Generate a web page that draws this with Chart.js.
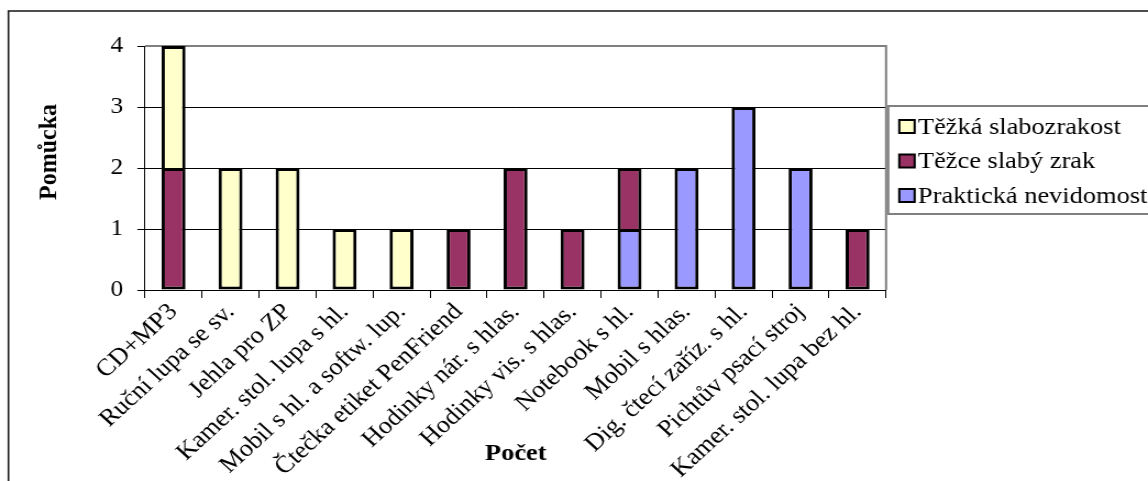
<!DOCTYPE html>
<html>
<head>
<meta charset="utf-8">
<script src="https://cdn.jsdelivr.net/npm/chart.js@4.4.1/dist/chart.umd.min.js"></script>
<style>
  html, body { margin: 0; padding: 0; background: #fff; overflow: hidden; }
  /* the chart is laid out narrow and widened horizontally */
  #wrap { width: 1044px; height: 481px; transform: scaleX(1.0996); transform-origin: 0 0; }
  canvas { display: block; }
  .fontwarm { position: absolute; left: -9999px; top: 0; font-family: "Liberation Serif"; }
</style>
</head>
<body>
<span class="fontwarm">Pomůcka <b>Počet</b></span>
<div id="wrap"><canvas id="chart" width="1044" height="481"></canvas></div>
<script>
// Aids by category, counted per degree of visual impairment
const categories = [
  'CD+MP3', 'Ruční lupa se sv.', 'Jehla pro ZP', 'Kamer. stol. lupa s hl.',
  'Mobil s hl. a softw. lup.', 'Čtečka etiket PenFriend', 'Hodinky nár. s hlas.',
  'Hodinky vis. s hlas.', 'Notebook s hl.', 'Mobil s hlas.', 'Dig. čtecí zaříz. s hl.',
  'Pichtův psací stroj', 'Kamer. stol. lupa bez hl.'
];
const praktickaNevidomost = [null, null, null, null, null, null, null, null, 1, 2, 3, 2, null];
const tezceSlabyZrak      = [2, null, null, null, null, 1, 2, 1, 1, null, null, null, 1];
const tezkaSlabozrakost   = [2, 2, 2, 1, 1, null, null, null, null, null, null, null, null];
const seriesNames = ['Praktická nevidomost', 'Těžce slabý zrak', 'Těžká slabozrakost'];
const yTicks = [0, 1, 2, 3, 4];
const xTitle = 'Počet';
const yTitle = 'Pomůcka';

const SERIF = '"Liberation Serif"';

// outer frame, plot-area border and axis titles
const frame = {
  id: 'frame',
  beforeDraw(chart) {
    const ctx = chart.ctx;
    ctx.save();
    ctx.fillStyle = '#fff';
    ctx.fillRect(0, 0, chart.width, chart.height);
    ctx.strokeStyle = '#222';
    ctx.lineWidth = 1.6;
    ctx.strokeRect(7.7, 11, chart.width + 20, chart.height + 20);
    ctx.restore();
  },
  beforeDatasetsDraw(chart) {
    const { ctx, chartArea: a } = chart;
    ctx.save();
    ctx.strokeStyle = '#808080';
    ctx.lineWidth = 2;
    ctx.beginPath();
    ctx.moveTo(a.left, a.top);
    ctx.lineTo(a.right, a.top);
    ctx.lineTo(a.right, a.bottom);
    ctx.stroke();
    ctx.restore();
  },
  afterDraw(chart) {
    const ctx = chart.ctx;
    ctx.save();
    ctx.fillStyle = '#000';
    ctx.font = 'bold 24px ' + SERIF;
    ctx.textAlign = 'center';
    ctx.textBaseline = 'middle';
    ctx.fillText(xTitle, 469, 454);
    ctx.translate(44.5, 152);
    ctx.rotate(-Math.PI / 2);
    ctx.fillText(yTitle, 0, 0);
    ctx.restore();
  }
};

// boxed legend to the right of the plot, top series first
const legendBox = {
  id: 'legendBox',
  afterDraw(chart) {
    const ctx = chart.ctx;
    const x0 = chart.chartArea.right + 2;
    const y0 = 106, y1 = 214;
    ctx.save();
    ctx.strokeStyle = '#808080';
    ctx.lineWidth = 2;
    ctx.strokeRect(x0, y0, chart.width - x0 + 10, y1 - y0);
    ctx.font = '24px ' + SERIF;
    ctx.textAlign = 'left';
    ctx.textBaseline = 'middle';
    const items = chart.data.datasets.slice().reverse();
    items.forEach((d, i) => {
      const cy = 126.5 + i * 34.5;
      ctx.fillStyle = d.backgroundColor;
      ctx.fillRect(x0 + 10, cy - 6.5, 14, 13);
      ctx.strokeStyle = '#000';
      ctx.lineWidth = 2;
      ctx.strokeRect(x0 + 10, cy - 6.5, 14, 13);
      ctx.fillStyle = '#000';
      ctx.fillText(d.label, x0 + 27, cy + 1);
    });
    ctx.restore();
  }
};

// a segment resting on another one shares that segment's top edge
function skipWhenStacked(c) {
  const below = c.chart.data.datasets.slice(0, c.datasetIndex);
  const hasBelow = below.some(d => d.data[c.dataIndex] != null);
  return hasBelow ? 'bottom' : false;
}

const barStyle = { borderColor: '#000', borderWidth: 3, borderSkipped: skipWhenStacked,
                   barPercentage: 0.42, categoryPercentage: 1 };

function build() {
  new Chart(document.getElementById('chart'), {
    type: 'bar',
    data: {
      labels: categories,
      datasets: [
        { label: seriesNames[0], data: praktickaNevidomost, backgroundColor: '#9999FF', ...barStyle },
        { label: seriesNames[1], data: tezceSlabyZrak, backgroundColor: '#993366', ...barStyle },
        { label: seriesNames[2], data: tezkaSlabozrakost, backgroundColor: '#FFFFCC', ...barStyle }
      ]
    },
    options: {
      responsive: false,
      animation: false,
      devicePixelRatio: 1,
      layout: { padding: { top: 46, right: 238.2, left: 0, bottom: 0 } },
      plugins: { legend: { display: false }, tooltip: { enabled: false } },
      scales: {
        x: {
          stacked: true,
          offset: true,
          grid: { display: true, drawOnChartArea: false, offset: true, drawTicks: true,
                  tickLength: 8, tickColor: '#000', tickWidth: 1 },
          border: { display: true, color: '#000', width: 1 },
          ticks: {
            autoSkip: false, minRotation: 45, maxRotation: 45, padding: 0,
            color: '#000', font: { family: SERIF, size: 24 }
          },
          afterFit: s => { s.height = 191; }
        },
        y: {
          stacked: true,
          min: 0, max: 4,
          afterBuildTicks: s => { s.ticks = yTicks.map(v => ({ value: v })); },
          grid: { color: '#000', lineWidth: 1, drawTicks: true, tickLength: 7,
                  tickColor: '#000', tickWidth: 1 },
          border: { display: true, color: '#000', width: 1 },
          ticks: { color: '#000', padding: 13, font: { family: SERIF, size: 23 } },
          afterFit: s => { s.width = 131.9; }
        }
      }
    },
    plugins: [frame, legendBox]
  });
}

Promise.all([
  document.fonts.load('24px "Liberation Serif"', 'Ač'),
  document.fonts.load('bold 24px "Liberation Serif"', 'Ač')
]).then(build, build);
</script>
</body>
</html>
